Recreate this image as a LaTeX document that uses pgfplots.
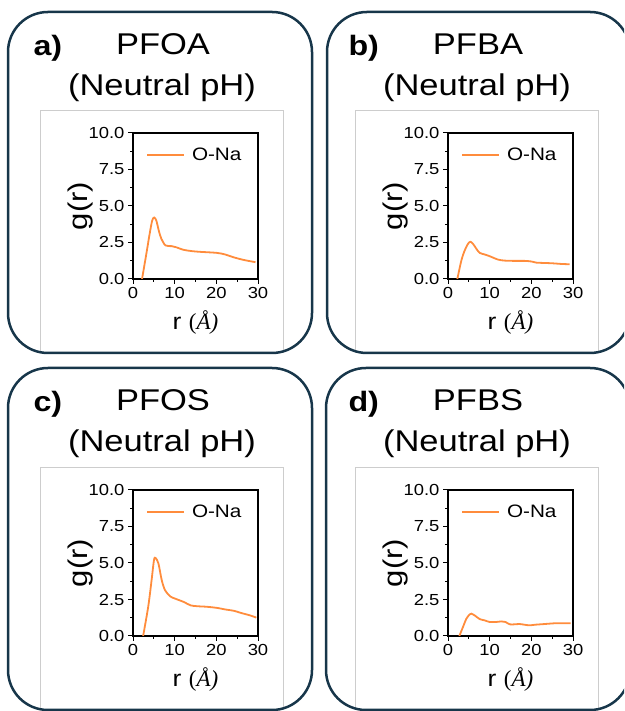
\documentclass[border=0pt]{standalone}
\usepackage{fontspec}
\setmainfont{Liberation Sans}[FakeStretch=1.15]
\newfontfamily\serifA{Liberation Serif}
\usepackage{pgfplots}
\pgfplotsset{compat=1.18}
\definecolor{frame}{RGB}{23,54,74}
\definecolor{curve}{RGB}{255,140,60}
\definecolor{boxgray}{RGB}{205,205,205}
\pgfplotsset{
  rdf/.style={
    scale only axis, width=125pt, height=146pt,
    xmin=0, xmax=30, ymin=0, ymax=10,
    xtick={0,10,20,30}, minor xtick={5,15,25},
    ytick={0,2.5,5,7.5,10}, minor y tick num=1,
    yticklabel style={/pgf/number format/.cd, fixed, fixed zerofill, precision=1},
    tick align=outside, major tick length=5pt, minor tick length=3pt,
    tick style={black, line width=1pt},
    axis line style={line width=1.4pt},
    xtick pos=bottom, ytick pos=left,
    /pgf/number format/assume math mode=true,
    tick label style={font=\fontsize{16}{18}\selectfont},
    xlabel={r {\serifA(\itshape Å\/)}}, ylabel={g(r)},
    x label style={at={(axis description cs:0.5,-0.295)}, anchor=center,
      font=\fontsize{23}{26}\selectfont},
    y label style={at={(axis description cs:-0.42,0.5)}, anchor=center,
      font=\fontsize{27}{30}\selectfont},
    legend style={draw=none, fill=none, at={(axis description cs:0.08,0.85)},
      anchor=west, font=\fontsize{18}{20}\selectfont},
    legend image code/.code={\draw[##1] (0pt,0pt) -- (37pt,0pt); \path (42pt,0pt);},
  },
  gr/.style={curve, line width=1.8pt, no marks, smooth},
}
\newcommand\paneltitle[4]{% x-offset, y-offset, letter, name
  \node[anchor=base west, font=\fontsize{28}{32}\selectfont\bfseries] at (#1+30, #2+655) {#3};
  \node[anchor=base, font=\fontsize{30}{36}\selectfont] at (#1+163, #2+656) {#4};
  \node[anchor=base, font=\fontsize{30}{36}\selectfont] at (#1+162, #2+615) {(Neutral pH)};
}
\begin{document}
\begin{tikzpicture}[x=1pt,y=1pt]
\path[use as bounding box] (0,0) rectangle (624,711);
\clip (0,0) rectangle (624,711);

% light grey boxes round the plots
\draw[boxgray, line width=0.8pt] (40,358) -- (40,601) -- (283,601) -- (283,358);
\draw[boxgray, line width=0.8pt] (355,358) -- (355,601) -- (598,601) -- (598,358);
\draw[boxgray, line width=0.8pt] (40,1) -- (40,244) -- (283,244) -- (283,1);
\draw[boxgray, line width=0.8pt] (355,1) -- (355,244) -- (598,244) -- (598,1);

% rounded panel frames
\draw[frame, line width=2.5pt, rounded corners=40pt] (8,358) rectangle (312,699);
\draw[frame, line width=2.5pt, rounded corners=40pt] (327,358) rectangle (630,699);
\draw[frame, line width=2.5pt, rounded corners=40pt] (8,1) rectangle (312,343);
\draw[frame, line width=2.5pt, rounded corners=40pt] (326,1) rectangle (630,343);

\paneltitle{0}{0}{a)}{PFOA}
\paneltitle{315}{0}{b)}{PFBA}
\paneltitle{0}{-356}{c)}{PFOS}
\paneltitle{315}{-356}{d)}{PFBS}

% a) PFOA
\begin{axis}[rdf, at={(133pt,432pt)}]
  \addplot[gr] coordinates {
    (2.17,0) (3.2,1.72) (4.0,3.1) (4.6,4.0) (5.07,4.21) (5.6,4.0)
    (6.2,3.3) (6.8,2.76) (7.8,2.3) (9.25,2.25) (10.3,2.18) (12.1,2.0)
    (14.1,1.91) (16.1,1.86) (20.1,1.79) (22.1,1.68) (24.1,1.49)
    (26.5,1.31) (29.4,1.15)
  };
  \addlegendentry{O-Na}
\end{axis}

% b) PFBA
\begin{axis}[rdf, at={(448pt,432pt)}]
  \addplot[gr] coordinates {
    (2.24,0) (3.2,1.26) (4.0,1.95) (4.8,2.41) (5.36,2.55) (6.0,2.41)
    (6.8,2.07) (7.6,1.79) (8.8,1.68) (10.0,1.56) (12.0,1.33) (13.6,1.26)
    (16.0,1.24) (18.4,1.24) (20.0,1.2) (21.2,1.12) (24.8,1.08)
    (27.2,1.03) (29.2,1.01)
  };
  \addlegendentry{O-Na}
\end{axis}

% c) PFOS
\begin{axis}[rdf, at={(133pt,75pt)}]
  \addplot[gr] coordinates {
    (2.43,0) (3.65,2.0) (4.46,3.82) (5.03,5.19) (5.4,5.35) (6.1,4.97)
    (6.9,3.82) (7.7,3.13) (8.9,2.72) (10.1,2.56) (12.2,2.33) (13.8,2.1)
    (15.4,2.04) (17.8,2.0) (20.3,1.92) (21.9,1.83) (24.3,1.72)
    (25.9,1.58) (28.0,1.42) (29.6,1.26)
  };
  \addlegendentry{O-Na}
\end{axis}

% d) PFBS
\begin{axis}[rdf, at={(448pt,75pt)}]
  \addplot[gr] coordinates {
    (2.72,0) (3.6,0.62) (4.4,1.18) (5.2,1.48) (5.6,1.53) (6.4,1.41)
    (7.6,1.16) (8.8,1.07) (10.0,0.96) (11.6,0.96) (12.8,1.0) (13.8,0.96)
    (14.8,0.8) (16.0,0.8) (17.2,0.82) (18.4,0.77) (19.6,0.73) (20.8,0.77)
    (23.2,0.82) (25.6,0.87) (28.0,0.87) (29.4,0.87)
  };
  \addlegendentry{O-Na}
\end{axis}
\end{tikzpicture}
\end{document}
